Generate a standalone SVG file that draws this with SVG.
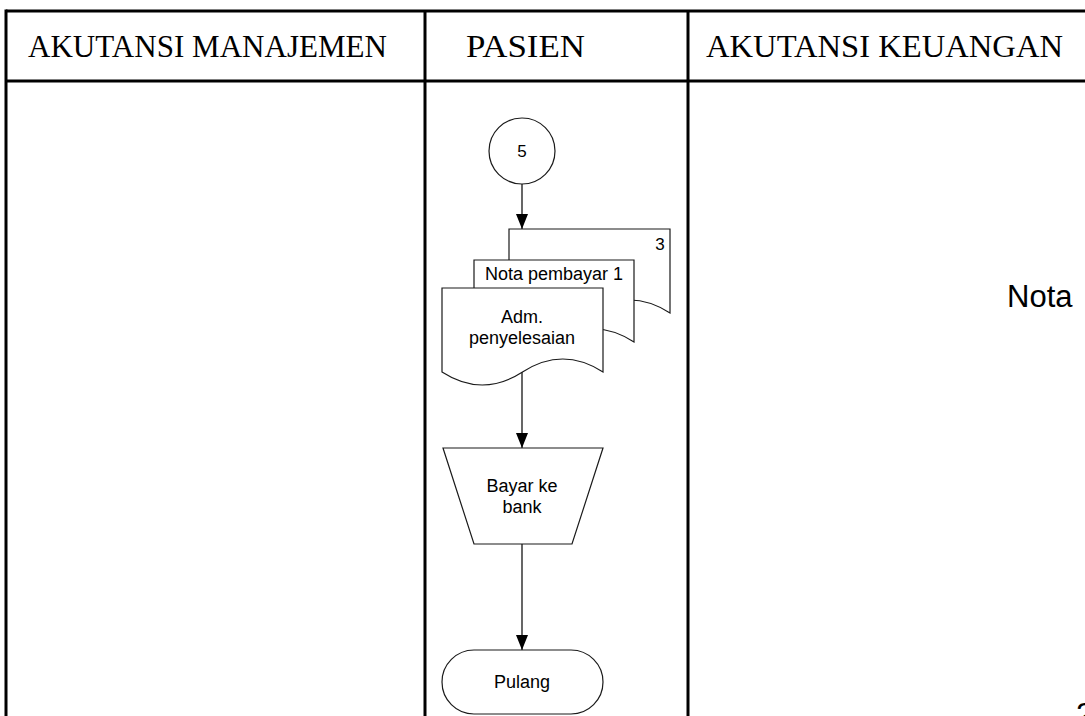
<svg xmlns="http://www.w3.org/2000/svg" width="1085" height="716" viewBox="0 0 1085 716">
  <style>
    .lane { stroke: #000; stroke-width: 3; fill: none; }
    .head { font-family: "Liberation Serif", "Times New Roman", serif; font-size: 31px; fill: #000; }
    .shape { fill: #fff; stroke: #1a1a1a; stroke-width: 1.2; }
    .lbl { font-family: "Liberation Sans", Arial, sans-serif; font-size: 18px; fill: #000; text-anchor: middle; }
    .big { font-family: "Liberation Sans", Arial, sans-serif; font-size: 31px; fill: #000; }
    .flow { stroke: #000; stroke-width: 1.2; fill: none; marker-end: url(#arrow); }
  </style>
  <defs>
    <marker id="arrow" markerWidth="15" markerHeight="12" refX="15" refY="6" orient="auto" markerUnits="userSpaceOnUse" viewBox="0 0 15 12">
      <path d="M0,0 L15,6 L0,12 Z" fill="#000"/>
    </marker>
  </defs>
  <rect width="1085" height="716" fill="#fff"/>

  <!-- swimlane frame -->
  <g id="lanes">
    <line class="lane" x1="6" y1="11" x2="1085" y2="11"/>
    <line class="lane" x1="6" y1="81" x2="1085" y2="81"/>
    <line class="lane" x1="6" y1="9.5" x2="6" y2="716"/>
    <line class="lane" x1="425" y1="11" x2="425" y2="716"/>
    <line class="lane" x1="688" y1="11" x2="688" y2="716"/>
    <text class="head" x="28" y="57" textLength="359" lengthAdjust="spacingAndGlyphs">AKUTANSI MANAJEMEN</text>
    <text class="head" x="466" y="57" textLength="119" lengthAdjust="spacingAndGlyphs">PASIEN</text>
    <text class="head" x="706" y="57" textLength="357" lengthAdjust="spacingAndGlyphs">AKUTANSI KEUANGAN</text>
  </g>

  <!-- connectors -->
  <g id="connectors">
    <line class="flow" x1="522" y1="184" x2="522" y2="229"/>
    <line class="flow" x1="522" y1="372" x2="522" y2="448"/>
    <line class="flow" x1="522" y1="544" x2="522" y2="650"/>
  </g>

  <!-- off-page connector 5 -->
  <g id="node-5">
    <circle class="shape" cx="522" cy="151" r="33"/>
    <text class="lbl" x="522" y="157" style="font-size:17px">5</text>
  </g>

  <!-- document stack -->
  <g id="node-doc3">
    <path class="shape" d="M509,229 H670 V313 Q629.75,287 589.5,313 T509,313 Z"/>
    <text class="lbl" x="660" y="250" style="font-size:17px">3</text>
  </g>
  <g id="node-doc-nota">
    <path class="shape" d="M474,260 H634 V342 Q594,316 554,342 T474,342 Z"/>
    <text class="lbl" x="554" y="280">Nota pembayar 1</text>
  </g>
  <g id="node-doc-adm">
    <path class="shape" d="M442,288 H603 V372 Q562.75,346 522.5,372 T442,372 Z"/>
    <text class="lbl" x="522" y="323">Adm.</text>
    <text class="lbl" x="522" y="344">penyelesaian</text>
  </g>

  <!-- manual operation -->
  <g id="node-bayar">
    <path class="shape" d="M443,448 H603 L572,544 H474 Z"/>
    <text class="lbl" x="522" y="492">Bayar ke</text>
    <text class="lbl" x="522" y="513">bank</text>
  </g>

  <!-- terminator -->
  <g id="node-pulang">
    <rect class="shape" x="442" y="650" width="161" height="64" rx="32" ry="32"/>
    <text class="lbl" x="522" y="688">Pulang</text>
  </g>

  <!-- text in the finance lane -->
  <g id="node-nota">
    <text class="big" x="1007" y="307">Nota</text>
  </g>
  <g id="node-2">
    <text class="big" x="1076" y="725">2</text>
  </g>
</svg>
